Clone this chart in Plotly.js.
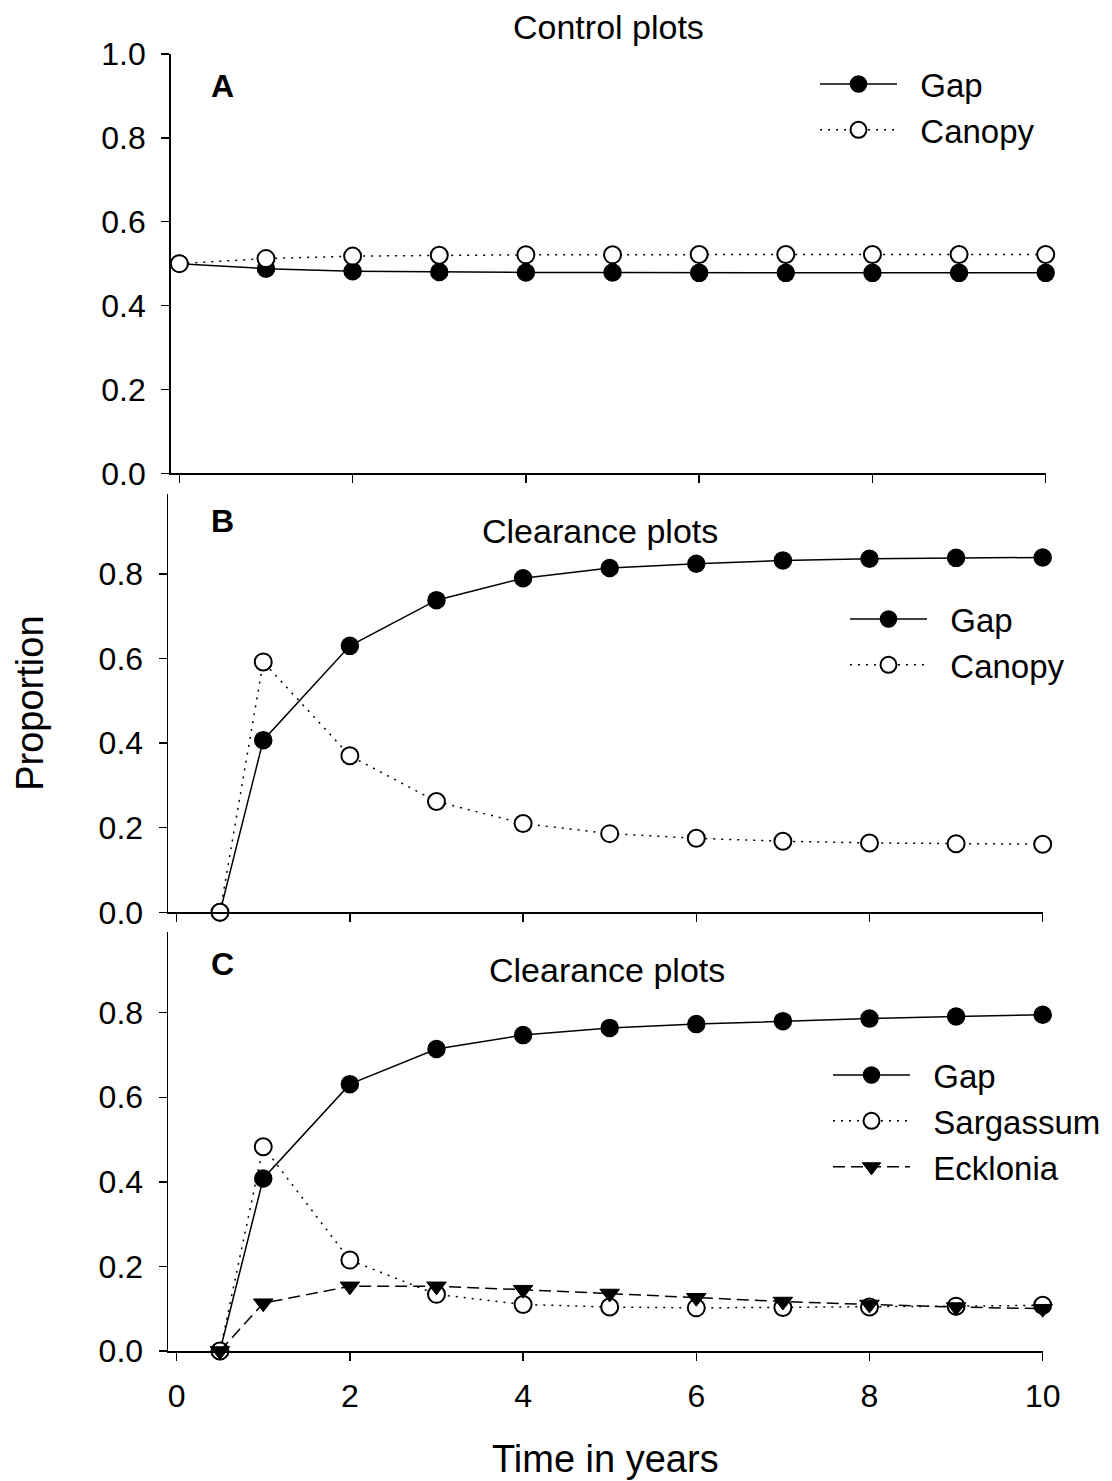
<!DOCTYPE html>
<html>
<head>
<meta charset="utf-8">
<script src="https://cdn.plot.ly/plotly-3.0.1.min.js"></script>
<style>html,body{margin:0;padding:0;background:#fff;}#chart{width:1112px;height:1481px;}</style>
</head>
<body>
<div id="chart"></div>
<script>
// ---- data ----
const yearsA = [0, 1, 2, 3, 4, 5, 6, 7, 8, 9, 10];
const gapA = [0.500, 0.488, 0.482, 0.480, 0.479, 0.479, 0.478, 0.478, 0.478, 0.478, 0.478];
const canopyA = [0.500, 0.512, 0.518, 0.520, 0.521, 0.521, 0.522, 0.522, 0.522, 0.522, 0.522];

const yearsBC = [0.5, 1, 2, 3, 4, 5, 6, 7, 8, 9, 10];
const gapB = [0, 0.407, 0.630, 0.738, 0.790, 0.814, 0.824, 0.832, 0.836, 0.838, 0.839];
const canopyB = [0, 0.592, 0.370, 0.262, 0.210, 0.186, 0.175, 0.168, 0.164, 0.162, 0.161];

const gapC = [0, 0.408, 0.631, 0.714, 0.747, 0.764, 0.773, 0.780, 0.786, 0.791, 0.795];
const sargassumC = [0, 0.483, 0.215, 0.134, 0.110, 0.104, 0.102, 0.103, 0.104, 0.106, 0.108];
const eckloniaC = [0, 0.113, 0.153, 0.153, 0.145, 0.136, 0.126, 0.117, 0.110, 0.104, 0.100];

const xTicks = [0, 2, 4, 6, 8, 10];
const yTicks = [0, 0.2, 0.4, 0.6, 0.8, 1.0];

// ---- styling ----
const W = 1112, H = 1481;
const FONT = 'Liberation Sans, Arial, Helvetica, sans-serif';
const px = v => v / W;
const py = v => 1 - v / H;
const PAD = '\u00a0\u00a0';

const solid = {color: 'black', width: 1.5, dash: 'solid'};
const dotted = {color: 'black', width: 1.5, dash: '2px,6px'};
const dashed = {color: 'black', width: 1.5, dash: '12px,6px'};
const filledCircle = {symbol: 'circle', size: 17, color: 'black', line: {color: 'black', width: 1.5}};
const openCircle = {symbol: 'circle', size: 17, color: 'white', line: {color: 'black', width: 2}};
const triDown = {symbol: 'triangle-down', size: 17, color: 'black', line: {color: 'black', width: 1}};

function tr(x, y, name, line, marker, xa, ya, leg) {
  return {x: x, y: y, name: PAD + name, type: 'scatter', mode: 'lines+markers',
    line: line, marker: marker, xaxis: xa, yaxis: ya, legend: leg, cliponaxis: false};
}

const data = [
  tr(yearsA, gapA, 'Gap', solid, filledCircle, 'x', 'y', 'legend'),
  tr(yearsA, canopyA, 'Canopy', dotted, openCircle, 'x', 'y', 'legend'),
  tr(yearsBC, gapB, 'Gap', solid, filledCircle, 'x2', 'y2', 'legend2'),
  tr(yearsBC, canopyB, 'Canopy', dotted, openCircle, 'x2', 'y2', 'legend2'),
  tr(yearsBC, gapC, 'Gap', solid, filledCircle, 'x3', 'y3', 'legend3'),
  tr(yearsBC, sargassumC, 'Sargassum', dotted, openCircle, 'x3', 'y3', 'legend3'),
  tr(yearsBC, eckloniaC, 'Ecklonia', dashed, triDown, 'x3', 'y3', 'legend3')
];

const axisCommon = {
  showline: true, linecolor: 'black', linewidth: 1.5, mirror: false,
  ticks: 'outside', ticklen: 8, tickwidth: 1.5, tickcolor: 'black',
  showgrid: false, zeroline: false,
  tickfont: {family: FONT, size: 32, color: 'black'}
};

function xax(domain, anchor, labels) {
  return Object.assign({}, axisCommon, {
    domain: domain, anchor: anchor, range: [-0.1, 10], tickmode: 'array', tickvals: xTicks,
    showticklabels: labels, ticklabelstandoff: 8
  });
}
function yax(domain, anchor, top) {
  return Object.assign({}, axisCommon, {
    domain: domain, anchor: anchor, range: [0, top], tickmode: 'array', tickvals: yTicks,
    tickformat: '.1f', ticklabelstandoff: 9
  });
}

const legendCommon = {
  xanchor: 'left', yanchor: 'top', bgcolor: 'rgba(0,0,0,0)', borderwidth: 0,
  font: {family: FONT, size: 33, color: 'black'}, itemwidth: 77, tracegroupgap: 0,
  itemclick: false
};

const layout = {
  width: W, height: H, autosize: false,
  margin: {l: 0, r: 0, t: 0, b: 0},
  paper_bgcolor: 'white', plot_bgcolor: 'white',
  font: {family: FONT, color: 'black'},
  showlegend: true,
  xaxis: xax([px(170.7), px(1045.7)], 'y', false),
  yaxis: yax([py(473.3), py(54)], 'x', 1.0),
  xaxis2: xax([px(168), px(1042.7)], 'y2', false),
  yaxis2: Object.assign(yax([py(912.3), py(494)], 'x2', 0.989), {
    title: {text: 'Proportion', font: {family: FONT, size: 38, color: 'black'}, standoff: 43}
  }),
  xaxis3: Object.assign(xax([px(168), px(1042.7)], 'y3', true), {
    title: {text: 'Time in years', font: {family: FONT, size: 38, color: 'black'}, standoff: 32}
  }),
  yaxis3: yax([py(1351), py(931.7)], 'x3', 0.9915),
  legend: Object.assign({}, legendCommon, {x: px(815), y: py(56)}),
  legend2: Object.assign({}, legendCommon, {x: px(845), y: py(591)}),
  legend3: Object.assign({}, legendCommon, {x: px(828), y: py(1047)}),
  annotations: [
    {text: 'Control plots', x: px(608), y: py(27), xref: 'paper', yref: 'paper', showarrow: false,
     xanchor: 'center', yanchor: 'middle', font: {family: FONT, size: 34, color: 'black'}},
    {text: 'Clearance plots', x: px(600), y: py(531), xref: 'paper', yref: 'paper', showarrow: false,
     xanchor: 'center', yanchor: 'middle', font: {family: FONT, size: 34, color: 'black'}},
    {text: 'Clearance plots', x: px(607), y: py(970), xref: 'paper', yref: 'paper', showarrow: false,
     xanchor: 'center', yanchor: 'middle', font: {family: FONT, size: 34, color: 'black'}},
    {text: '<b>A</b>', x: px(222), y: py(86), xref: 'paper', yref: 'paper', showarrow: false,
     xanchor: 'center', yanchor: 'middle', font: {family: FONT, size: 32, color: 'black'}},
    {text: '<b>B</b>', x: px(222), y: py(521), xref: 'paper', yref: 'paper', showarrow: false,
     xanchor: 'center', yanchor: 'middle', font: {family: FONT, size: 32, color: 'black'}},
    {text: '<b>C</b>', x: px(222), y: py(964), xref: 'paper', yref: 'paper', showarrow: false,
     xanchor: 'center', yanchor: 'middle', font: {family: FONT, size: 32, color: 'black'}}
  ]
};

Plotly.newPlot('chart', data, layout, {staticPlot: true, displayModeBar: false});
</script>
</body>
</html>
